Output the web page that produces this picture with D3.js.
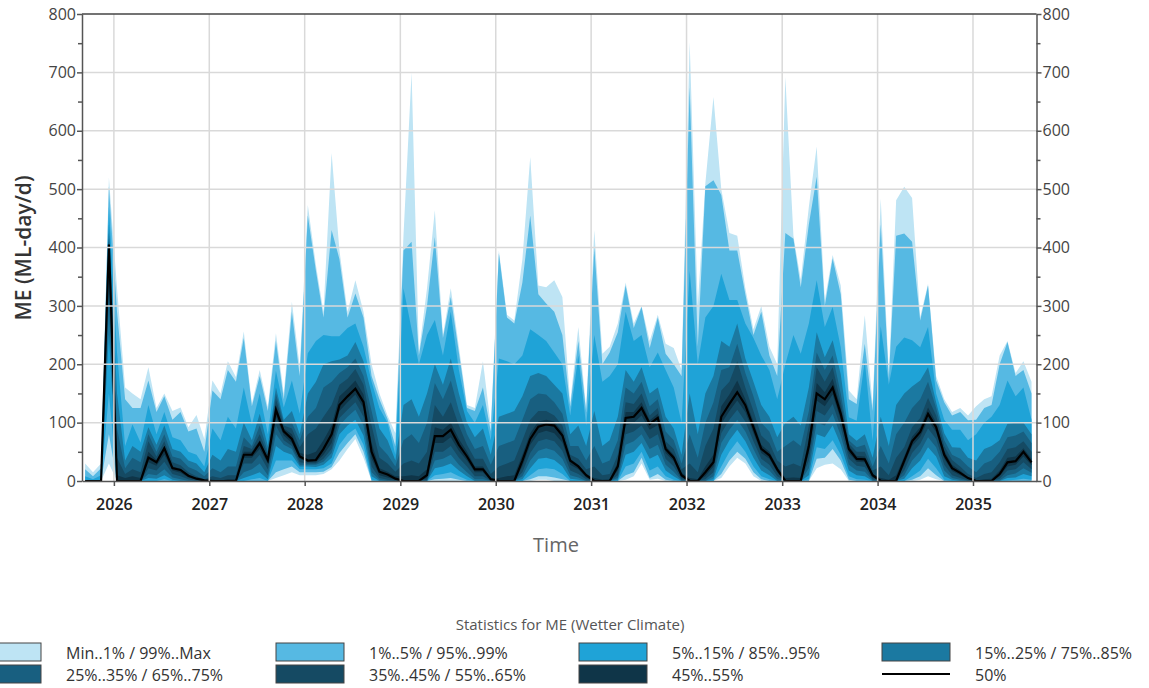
<!DOCTYPE html>
<html>
<head>
<meta charset="utf-8">
<script src="https://cdn.jsdelivr.net/npm/d3@7"></script>
<style>
  body { margin: 0; background: #fff; }
  svg { display: block; font-family: "Open Sans", sans-serif; }
</style>
</head>
<body>
<svg id="chart" width="1149" height="688"></svg>
<script>
// monthly statistics, first value mid Sept 2025
const firstMonth = new Date(2025, 8, 13);

const qMax = [30,15,30,520,330,160,150,140,195,125, 150,120,126,92,113,72,172,150,205,178,
  256,133,190,127,253,150,307,196,473,370, 290,562,395,290,344,290,200,150,112,82,
  420,700,220,330,464,250,330,230,130,125, 205,95,395,285,275,380,555,335,332,344,
  315,135,264,125,430,218,230,270,340,270, 300,240,285,235,228,190,752,300,510,658,
  500,425,420,330,260,300,230,200,692,420, 345,470,573,310,387,335,155,140,284,130,
  484,183,481,504,485,281,338,180,140,118, 125,112,128,140,145,215,240,185,205,170];
const q99 = [20,8,22,505,290,140,125,125,172,118, 145,105,118,85,90,50,155,140,190,170,
  245,128,180,120,240,140,290,180,455,360, 280,430,380,280,321,280,180,140,106,60,
  395,410,215,300,418,245,315,220,125,120, 160,85,390,280,270,340,455,320,304,290,
  250,127,240,118,400,200,220,255,335,262, 298,228,280,218,200,180,675,230,505,515,
  490,395,395,320,250,290,215,180,425,415, 332,440,521,300,381,320,140,132,235,120,
  440,175,420,424,410,275,335,172,135,112, 118,104,105,125,130,200,238,180,190,150];
const q95 = [8,3,10,470,220,60,97,66,130,80, 118,75,70,50,45,25,90,70,110,90,
  160,97,150,80,189,126,172,115,219,240, 250,248,248,262,270,230,170,125,100,45,
  330,260,200,250,276,215,290,190,120,100, 130,70,210,205,200,215,260,250,240,220,
  200,112,215,95,250,170,180,200,290,240, 250,195,220,190,160,100,360,200,280,300,
  355,310,310,270,245,215,190,140,200,250, 218,270,344,264,298,229,109,103,206,69,
  265,165,230,246,241,229,264,150,105,88, 88,70,80,100,110,130,172,145,160,105];
const q85 = [0,0,0,440,150,35,60,50,92,62, 95,55,50,35,30,15,45,35,55,50,
  100,70,115,60,160,105,120,80,150,170, 200,205,208,215,238,205,150,90,70,35,
  130,140,110,150,200,165,210,150,100,75, 90,45,110,115,120,145,180,185,180,165,
  150,80,95,60,120,60,70,110,190,170, 195,150,160,110,90,45,150,80,150,180,
  240,230,270,210,170,130,110,75,100,110, 95,160,255,212,241,183,80,69,80,40,
  110,60,130,150,162,172,195,135,82,58, 57,40,35,55,60,70,98,100,100,80];
const q75 = [0,0,0,425,90,22,40,32,80,50, 80,42,38,24,18,8,22,15,25,25,
  75,60,95,50,150,100,100,70,110,125, 160,170,185,195,210,180,120,60,45,25,
  70,80,65,100,168,140,172,120,80,55, 60,28,60,65,70,105,140,150,148,135,
  115,60,60,35,60,30,35,70,160,150, 170,128,140,85,70,30,80,40,100,135,
  190,195,235,185,145,100,85,50,60,70, 60,120,220,190,215,150,70,58,62,25,
  60,30,80,100,125,140,170,125,70,45, 38,25,15,30,35,50,75,78,85,65];
const q65 = [0,0,0,415,40,12,20,15,68,42, 68,32,27,15,8,3,8,5,10,10,
  60,55,80,45,140,95,90,58,80,90, 110,130,165,175,192,165,95,40,30,16,
  30,35,30,50,130,110,135,95,62,38, 38,12,25,30,35,70,105,120,120,112,
  95,45,38,20,25,10,12,45,135,132, 150,112,125,68,55,20,30,15,60,90,
  155,170,205,160,120,78,65,35,25,30, 25,95,195,170,195,135,64,50,50,18,
  25,10,40,58,92,108,142,112,60,36, 25,12,5,12,15,32,55,58,68,50];
const q55 = [0,0,0,410,10,5,8,5,50,36, 60,25,21,10,5,1,2,1,3,3,
  50,50,70,40,130,90,80,48,45,50, 70,95,145,158,172,148,65,22,16,8,
  8,10,8,20,92,88,100,72,50,25, 25,5,5,8,10,45,82,102,105,102,
  84,38,28,12,5,2,3,32,118,118, 135,104,115,60,45,14,5,3,25,45,
  128,148,172,140,102,62,50,25,5,6, 5,72,168,152,175,125,60,43,42,12,
  5,2,10,42,76,92,126,100,52,28, 18,7,1,3,4,18,40,42,56,38];
const q50 = [0,0,0,405,0,0,0,0,40,32, 56,22,19,9,4,1,0,0,0,0,
  45,45,65,36,122,85,72,42,35,36, 55,80,130,145,158,135,50,16,11,4,
  0,0,0,10,77,77,88,62,42,20, 20,3,0,0,0,35,72,93,97,95,
  78,35,25,10,0,0,0,25,108,110, 125,98,108,55,40,10,0,0,15,32,
  110,132,152,130,92,55,44,20,0,0, 0,60,150,140,160,115,55,38,37,10,
  0,0,0,35,68,84,115,92,45,22, 14,5,0,0,0,12,32,34,50,32];
const q45 = [0,0,0,390,0,0,0,0,32,26, 45,18,14,6,2,0,0,0,0,0,
  40,40,55,30,110,78,65,38,32,32, 45,65,120,135,148,125,38,10,6,2,
  0,0,0,5,65,65,75,52,35,15, 15,1,0,0,0,25,62,82,86,82,
  66,28,20,6,0,0,0,18,95,100, 112,88,96,48,34,6,0,0,8,25,
  98,120,138,118,82,48,38,15,0,0, 0,48,138,128,148,105,48,33,32,6,
  0,0,0,28,60,76,104,84,38,17, 10,3,0,0,0,8,25,28,42,27];
const q35 = [0,0,0,350,0,0,0,0,22,18, 33,12,8,3,0,0,0,0,0,0,
  30,30,45,20,95,70,60,32,30,30, 38,55,108,122,135,110,25,5,2,0,
  0,0,0,2,50,50,60,40,25,8, 8,0,0,0,0,15,48,68,72,68,
  52,18,12,3,0,0,0,10,80,85, 95,72,80,38,25,3,0,0,3,15,
  82,105,122,102,68,38,28,8,0,0, 0,35,120,112,132,92,38,26,24,3,
  0,0,0,18,48,64,90,72,28,10, 5,1,0,0,0,4,18,20,32,20];
const q25 = [0,0,0,300,0,0,0,0,12,10, 20,6,3,0,0,0,0,0,0,0,
  15,20,30,10,80,62,55,28,28,28, 33,48,95,110,122,95,15,2,0,0,
  0,0,0,0,35,38,45,28,15,3, 3,0,0,0,0,8,35,52,56,52,
  38,10,6,0,0,0,0,5,62,68, 80,55,62,28,16,1,0,0,0,8,
  65,88,105,85,55,28,18,3,0,0, 0,22,100,95,115,78,28,18,16,1,
  0,0,0,10,35,50,75,58,18,5, 2,0,0,0,0,1,10,13,22,14];
const q15 = [0,0,0,250,0,0,0,0,5,4, 10,2,0,0,0,0,0,0,0,0,
  5,10,15,3,60,50,45,25,25,24, 28,40,80,95,105,78,8,0,0,0,
  0,0,0,0,22,25,30,18,8,0, 0,0,0,0,0,3,22,38,40,36,
  25,4,2,0,0,0,0,2,45,50, 65,38,45,18,8,0,0,0,0,3,
  45,70,88,68,40,18,10,0,0,0, 0,10,80,75,95,62,18,10,8,0,
  0,0,0,4,22,35,58,42,8,2, 0,0,0,0,0,0,5,6,12,8];
const q5 = [0,0,0,150,0,0,0,0,0,0, 3,0,0,0,0,0,0,0,0,0,
  0,3,5,0,35,35,35,20,20,20, 22,30,62,80,90,62,2,0,0,0,
  0,0,0,0,10,12,15,8,2,0, 0,0,0,0,0,0,10,20,22,20,
  12,0,0,0,0,0,0,0,25,30, 50,18,25,8,2,0,0,0,0,0,
  25,50,68,50,25,8,3,0,0,0, 0,3,58,55,70,45,8,3,2,0,
  0,0,0,0,8,18,38,22,2,0, 0,0,0,0,0,0,1,2,4,2];
const q1 = [0,0,0,80,0,0,0,0,0,0, 0,0,0,0,0,0,0,0,0,0,
  0,0,0,0,15,20,25,15,15,15, 16,24,48,65,80,50,0,0,0,0,
  0,0,0,0,3,4,5,2,0,0, 0,0,0,0,0,0,3,8,8,6,
  3,0,0,0,0,0,0,0,10,15, 40,5,12,2,0,0,0,0,0,0,
  12,35,50,38,15,3,0,0,0,0, 0,0,38,40,55,35,2,0,0,0,
  0,0,0,0,2,8,22,10,0,0, 0,0,0,0,0,0,0,0,0,0];
const qMin = [0,0,0,30,0,0,0,0,0,0, 0,0,0,0,0,0,0,0,0,0,
  0,0,0,0,5,10,15,10,10,10, 12,20,35,55,72,40,0,0,0,0,
  0,0,0,0,0,0,0,0,0,0, 0,0,0,0,0,0,0,2,2,0,
  0,0,0,0,0,0,0,0,2,8, 30,2,4,0,0,0,0,0,0,0,
  5,25,40,30,8,0,0,0,0,0, 0,0,22,28,30,20,0,0,0,0,
  0,0,0,0,0,2,8,3,0,0, 0,0,0,0,0,0,0,0,0,0];

const yTicks = [0, 100, 200, 300, 400, 500, 600, 700, 800];
const yMinor = [50, 150, 250, 350, 450, 550, 650, 750];
const years = [2026, 2027, 2028, 2029, 2030, 2031, 2032, 2033, 2034, 2035];

const bands = [
  {label: "Min..1% / 99%..Max",   lo: qMin, hi: qMax, color: "#bee4f4"},
  {label: "1%..5% / 95%..99%",    lo: q1,   hi: q99,  color: "#56b9e3"},
  {label: "5%..15% / 85%..95%",   lo: q5,   hi: q95,  color: "#1fa3d7"},
  {label: "15%..25% / 75%..85%",  lo: q15,  hi: q85,  color: "#1b79a1"},
  {label: "25%..35% / 65%..75%",  lo: q25,  hi: q75,  color: "#185f80"},
  {label: "35%..45% / 55%..65%",  lo: q35,  hi: q65,  color: "#154a63"},
  {label: "45%..55%",             lo: q45,  hi: q55,  color: "#0f3548"}
];

const svg = d3.select("#chart");
const plotL = 82, plotR = 1036.5, plotT = 14, plotB = 481;

const dates = qMax.map((_, i) => d3.timeMonth.offset(firstMonth, i));

const x = d3.scaleTime()
  .domain([new Date(2025, 8, 1), new Date(2035, 8, 1)])
  .range([plotL, plotR]);
const y = d3.scaleLinear().domain([0, 800]).range([plotB, plotT]);

svg.append("clipPath").attr("id", "plot")
  .append("rect").attr("x", plotL).attr("y", plotT)
  .attr("width", plotR - plotL).attr("height", plotB - plotT);

const idx = d3.range(dates.length);
const g = svg.append("g").attr("clip-path", "url(#plot)");

bands.forEach(b => {
  const area = d3.area()
    .x(i => x(dates[i]))
    .y0(i => y(b.lo[i]))
    .y1(i => y(b.hi[i]));
  g.append("path").datum(idx).attr("d", area).attr("fill", b.color);
});

// grid drawn over the bands, like the original
const grid = svg.append("g").attr("stroke", "#d9d9d9").attr("stroke-width", 1.5);
grid.selectAll(".hg").data(yTicks.slice(1, -1)).join("line")
  .attr("x1", plotL).attr("x2", plotR)
  .attr("y1", d => y(d)).attr("y2", d => y(d));
grid.selectAll(".vg").data(years).join("line")
  .attr("x1", d => x(new Date(d, 0, 1))).attr("x2", d => x(new Date(d, 0, 1)))
  .attr("y1", plotT).attr("y2", plotB);

const line = d3.line().x(i => x(dates[i])).y(i => y(q50[i]));
g.append("path").datum(idx).attr("d", line)
  .attr("fill", "none").attr("stroke", "#000").attr("stroke-width", 2.2);

// axes
function styleAxis(sel, size) {
  sel.select(".domain").attr("stroke", "#555").attr("stroke-width", 1.5);
  sel.selectAll(".tick line").attr("stroke", "#555").attr("stroke-width", 1.5);
  sel.selectAll(".tick text").attr("fill", "#444")
    .style("font-size", size + "px").style("font-family", "Open Sans");
}

svg.append("g").attr("transform", `translate(${plotL},0)`)
  .call(d3.axisLeft(y).tickValues(yTicks).tickSize(5).tickSizeOuter(0).tickPadding(1))
  .call(s => styleAxis(s, 16));
svg.append("g").attr("transform", `translate(${plotL},0)`)
  .call(d3.axisLeft(y).tickValues(yMinor).tickSize(4).tickFormat(""))
  .call(s => { s.select(".domain").remove(); styleAxis(s, 16); });

svg.append("g").attr("transform", `translate(${plotR},0)`)
  .call(d3.axisRight(y).tickValues(yTicks).tickSize(5).tickSizeOuter(0).tickPadding(1))
  .call(s => styleAxis(s, 16));
svg.append("g").attr("transform", `translate(${plotR},0)`)
  .call(d3.axisRight(y).tickValues(yMinor).tickSize(4).tickFormat(""))
  .call(s => { s.select(".domain").remove(); styleAxis(s, 16); });

svg.append("g").attr("transform", `translate(0,${plotB})`)
  .call(d3.axisBottom(x).tickValues(years.map(d => new Date(d, 0, 1)))
    .tickFormat(d3.timeFormat("%Y")).tickSize(5).tickSizeOuter(0).tickPadding(13))
  .call(s => {
    styleAxis(s, 16);
    s.selectAll(".tick text").attr("fill", "#222").style("font-weight", 600);
  });

svg.append("line").attr("x1", plotL).attr("x2", plotR).attr("y1", plotT).attr("y2", plotT)
  .attr("stroke", "#444").attr("stroke-width", 1.5);

// titles
svg.append("text").attr("transform", "translate(31,248) rotate(-90)")
  .attr("text-anchor", "middle").attr("fill", "#333")
  .style("font-size", "21px").style("font-weight", 600)
  .text("ME (ML-day/d)");

svg.append("text").attr("x", 556).attr("y", 552).attr("text-anchor", "middle")
  .attr("fill", "#666").style("font-size", "20px").text("Time");

// legend
svg.append("text").attr("x", 570).attr("y", 630).attr("text-anchor", "middle")
  .attr("fill", "#555").style("font-size", "15px")
  .text("Statistics for ME (Wetter Climate)");

const legendItems = bands.map(b => ({label: b.label, color: b.color}))
  .concat([{label: "50%", color: null}]);

const leg = svg.append("g").selectAll("g").data(legendItems).join("g")
  .attr("transform", (d, i) => `translate(${-27 + (i % 4) * 303},${643 + Math.floor(i / 4) * 22})`);

leg.filter(d => d.color)
  .append("rect").attr("width", 68).attr("height", 18)
  .attr("fill", d => d.color).attr("stroke", "#444").attr("stroke-width", 1);
leg.filter(d => !d.color)
  .append("line").attr("x1", 0).attr("x2", 68).attr("y1", 9).attr("y2", 9)
  .attr("stroke", "#000").attr("stroke-width", 2);
leg.append("text").attr("x", 93).attr("y", 16)
  .attr("fill", "#333").style("font-size", "16px")
  .text(d => d.label);
</script>
</body>
</html>
